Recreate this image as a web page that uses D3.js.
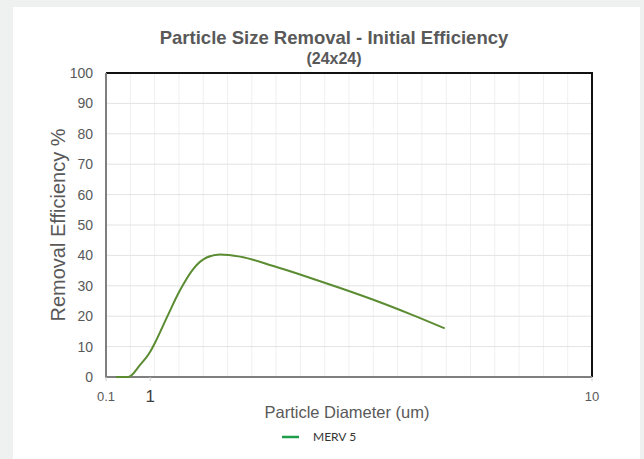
<!DOCTYPE html>
<html>
<head>
<meta charset="utf-8">
<script src="https://cdn.jsdelivr.net/npm/d3@7"></script>
<style>
  body { margin: 0; background: #eff1f0; }
  svg { display: block; }
</style>
</head>
<body>
<div id="chart"></div>
<script>
// particle diameter (um) and removal efficiency (%)
const diameters = [0.3, 0.55, 0.79, 1.0, 1.13, 1.34, 1.61, 1.88, 2.15, 2.42, 2.83, 3.51, 4.19, 4.87, 5.6, 6.3, 7.0];
const efficiency = [0, 0, 3.9, 8.3, 12.3, 19.6, 28.6, 35.6, 39.3, 40.3, 39.6, 36.5, 33.0, 29.3, 25.1, 20.7, 16];
const yTicks = [0, 10, 20, 30, 40, 50, 60, 70, 80, 90, 100];
const xTickLabels = [0.1, 1, 10];
const seriesName = "MERV 5";

const width = 644, height = 459;
const margin = { left: 106, right: 52, top: 73, bottom: 82 };
const font = "Liberation Sans, Arial, sans-serif";

const svg = d3.select("#chart").append("svg")
  .attr("width", width)
  .attr("height", height);

// white card on grey page
svg.append("rect").attr("x", 13).attr("y", 7).attr("width", 627).attr("height", height - 7).attr("fill", "#fff");

const x = d3.scaleLinear().domain([0.1, 10]).range([margin.left, width - margin.right]);
const y = d3.scaleLinear().domain([0, 100]).range([height - margin.bottom, margin.top]);

// vertical minor grid, 20 equal divisions
const xGrid = d3.range(1, 20).map(i => 0.1 + i * (9.9 / 20));
svg.append("g")
  .selectAll("line")
  .data(xGrid)
  .join("line")
  .attr("x1", d => x(d)).attr("x2", d => x(d))
  .attr("y1", y(0)).attr("y2", y(100))
  .attr("stroke", "#f0f0f0").attr("stroke-width", 1);

// horizontal grid
svg.append("g")
  .selectAll("line")
  .data(yTicks.slice(1, -1))
  .join("line")
  .attr("x1", x(0.1)).attr("x2", x(10))
  .attr("y1", d => y(d)).attr("y2", d => y(d))
  .attr("stroke", "#e3e3e3").attr("stroke-width", 1);

// plot frame: top/right dark, left/bottom grey
svg.append("path")
  .attr("d", `M${x(0.1)},${y(100)}H${x(10)}V${y(0)}`)
  .attr("fill", "none").attr("stroke", "#111").attr("stroke-width", 2);
svg.append("path")
  .attr("d", `M${x(0.1)},${y(100)}V${y(0)}H${x(10)}`)
  .attr("fill", "none").attr("stroke", "#7f7f7f").attr("stroke-width", 2);

// x ticks
svg.append("g")
  .selectAll("line")
  .data(xTickLabels)
  .join("line")
  .attr("x1", d => x(d)).attr("x2", d => x(d))
  .attr("y1", y(0)).attr("y2", y(0) + 4)
  .attr("stroke", "#d0d0d0");

svg.append("g")
  .selectAll("text")
  .data(xTickLabels)
  .join("text")
  .attr("x", d => x(d))
  .attr("y", d => d === 1 ? 402 : 401)
  .attr("text-anchor", "middle")
  .attr("font-family", font)
  .attr("font-size", d => d === 1 ? 17 : 13)
  .attr("fill", d => d === 1 ? "#404040" : "#595959")
  .text(d => d);

// y tick labels
svg.append("g")
  .selectAll("text")
  .data(yTicks)
  .join("text")
  .attr("x", 93)
  .attr("y", d => y(d) + 5)
  .attr("text-anchor", "end")
  .attr("font-family", font)
  .attr("font-size", 14)
  .attr("fill", "#595959")
  .text(d => d);

// efficiency curve
const line = d3.line()
  .x((d, i) => x(diameters[i]))
  .y(d => y(d))
  .curve(d3.curveMonotoneX);

svg.append("path")
  .datum(efficiency)
  .attr("d", line)
  .attr("fill", "none")
  .attr("stroke", "#5b8c32")
  .attr("stroke-width", 2);

// titles
svg.append("text")
  .attr("x", 334).attr("y", 44)
  .attr("text-anchor", "middle")
  .attr("font-family", font)
  .attr("font-weight", "bold").attr("font-size", 18.5)
  .attr("fill", "#595959")
  .text("Particle Size Removal - Initial Efficiency");

svg.append("text")
  .attr("x", 334).attr("y", 64)
  .attr("text-anchor", "middle")
  .attr("font-family", font)
  .attr("font-weight", "bold").attr("font-size", 16)
  .attr("fill", "#595959")
  .text("(24x24)");

svg.append("text")
  .attr("transform", `translate(65,${(y(0) + y(100)) / 2}) rotate(-90)`)
  .attr("text-anchor", "middle")
  .attr("font-family", font)
  .attr("font-size", 20)
  .attr("fill", "#595959")
  .text("Removal Efficiency %");

svg.append("text")
  .attr("x", 347).attr("y", 418)
  .attr("text-anchor", "middle")
  .attr("font-family", font)
  .attr("font-size", 16.5)
  .attr("fill", "#595959")
  .text("Particle Diameter (um)");

// legend
const legend = svg.append("g").attr("transform", "translate(282,437)");
legend.append("line")
  .attr("x1", 0).attr("x2", 17)
  .attr("stroke", "#1e9e4a").attr("stroke-width", 2.5);
legend.append("text")
  .attr("x", 31).attr("y", 4)
  .attr("font-family", "Lato, Open Sans, sans-serif")
  .attr("font-size", 12)
  .attr("fill", "#333")
  .text(seriesName);
</script>
</body>
</html>
